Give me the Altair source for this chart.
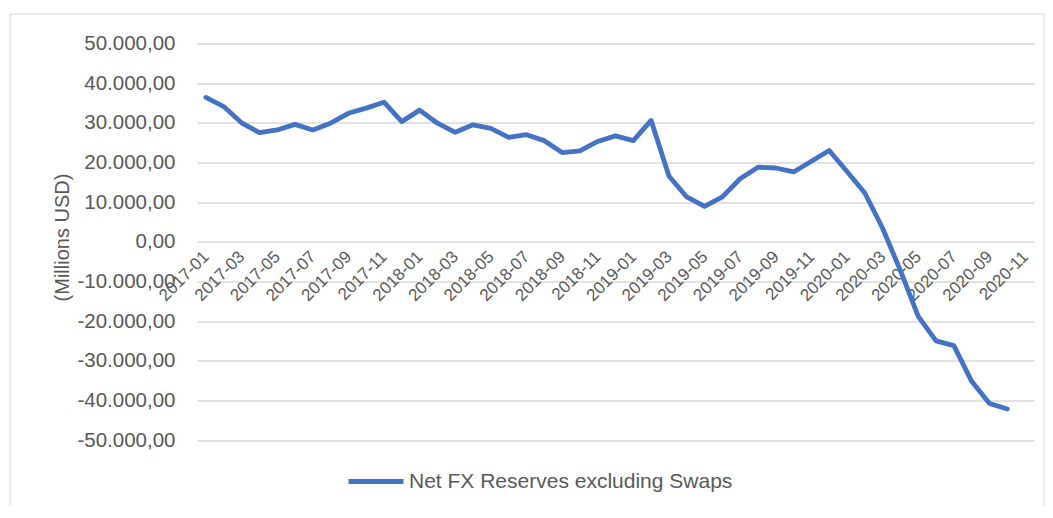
import altair as alt
import pandas as pd

categories = [
    "2017-01", "2017-02", "2017-03", "2017-04", "2017-05", "2017-06",
    "2017-07", "2017-08", "2017-09", "2017-10", "2017-11", "2017-12",
    "2018-01", "2018-02", "2018-03", "2018-04", "2018-05", "2018-06",
    "2018-07", "2018-08", "2018-09", "2018-10", "2018-11", "2018-12",
    "2019-01", "2019-02", "2019-03", "2019-04", "2019-05", "2019-06",
    "2019-07", "2019-08", "2019-09", "2019-10", "2019-11", "2019-12",
    "2020-01", "2020-02", "2020-03", "2020-04", "2020-05", "2020-06",
    "2020-07", "2020-08", "2020-09", "2020-10", "2020-11",
]

net_fx = [
    36400, 34100, 30000, 27500, 28200, 29600, 28200, 29900, 32400, 33700, 35200, 30300,
    33200, 29900, 27600, 29500, 28600, 26300, 27000, 25500, 22500, 22900, 25300, 26700,
    25500, 30600, 16600, 11300, 8900, 11300, 15900, 18800, 18600, 17600, 20300, 23000,
    17700, 12300, 3400, -7300, -18800, -25000, -26200, -35200, -40800, -42200,
]

tick_labels = categories[::2]
y_ticks = [-50000, -40000, -30000, -20000, -10000, 0, 10000, 20000, 30000, 40000, 50000]
series_name = "Net FX Reserves excluding Swaps"

df = pd.DataFrame({
    "month": categories[:len(net_fx)],
    "value": net_fx,
    "series": [series_name] * len(net_fx),
})

FONT = "Liberation Sans"
GRAY = "#595959"
W, H = 837, 396.5

line = alt.Chart(df).mark_line(
    strokeWidth=4.8, strokeCap="round", strokeJoin="round"
).encode(
    x=alt.X(
        "month:O",
        scale=alt.Scale(type="point", domain=categories, padding=0.5),
        axis=alt.Axis(
            orient="bottom", offset=-H / 2, title=None, values=tick_labels,
            labelAngle=-45, labelAlign="right", labelBaseline="middle",
            labelFont=FONT, labelFontSize=17, labelColor=GRAY, labelPadding=12,
            domain=False, ticks=False, tickSize=0, grid=False,
            labelOverlap=False, labelBound=False, labelFlush=False,
        ),
    ),
    y=alt.Y(
        "value:Q",
        scale=alt.Scale(domain=[-50000, 50000], nice=False, zero=False),
        axis=alt.Axis(
            values=y_ticks, title="(Millions USD)",
            titleFont=FONT, titleFontSize=20, titleFontWeight="normal", titleColor=GRAY,
            titleX=-135, titleY=193.5, titleAngle=270, titleAlign="center", titleBaseline="middle",
            labelFont=FONT, labelFontSize=20.5, labelColor=GRAY, labelPadding=22,
            labelExpr="(datum.value < 0 ? '-' : '') + (datum.value == 0 ? '0,00' : format(abs(datum.value) / 1000, 'd') + '.000,00')",
            domain=False, ticks=False, tickSize=0,
            grid=True, gridColor="#d9d9d9", gridWidth=1.3,
        ),
    ),
    color=alt.Color(
        "series:N",
        scale=alt.Scale(domain=[series_name], range=["#4472C4"]),
        legend=alt.Legend(
            orient="none", legendX=149, legendY=408, title=None, padding=0,
            labelFont=FONT, labelFontSize=21, labelColor=GRAY, labelOffset=3, labelLimit=0,
            symbolType="stroke", symbolSize=3025, symbolStrokeWidth=4.8,
            direction="horizontal",
        ),
    ),
)

frame = alt.Chart(pd.DataFrame({"a": [0]})).mark_rect(
    fillOpacity=0, stroke="#d9d9d9", strokeWidth=1
).encode(
    x=alt.value(-187), x2=alt.value(847), y=alt.value(-29.5), y2=alt.value(480)
)

chart = alt.layer(frame, line).properties(
    width=W, height=H, autosize="none",
    padding={"left": 189, "top": 35.5, "right": 11, "bottom": 66},
    background="white",
).configure_view(strokeWidth=0)

chart.save("out.html", embed_options={"renderer": "svg", "actions": False})
